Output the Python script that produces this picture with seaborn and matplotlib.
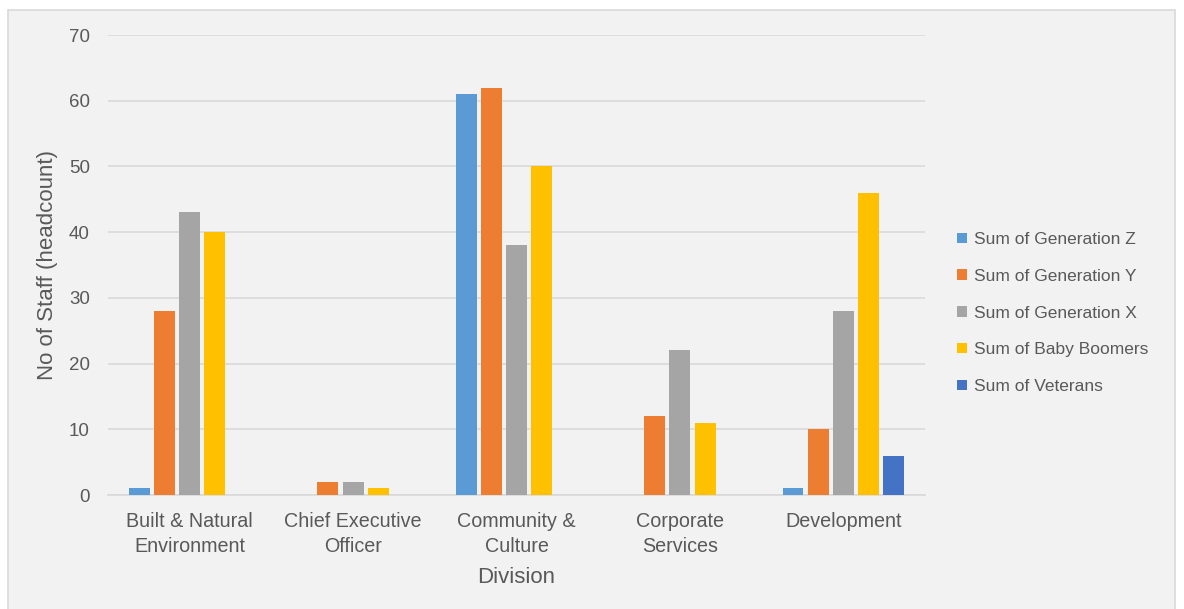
import matplotlib
matplotlib.use("Agg")
import matplotlib.pyplot as plt
import seaborn as sns
import pandas as pd
from matplotlib.patches import Rectangle

categories = ["Built & Natural\nEnvironment", "Chief Executive\nOfficer", "Community &\nCulture",
              "Corporate\nServices", "Development"]
series = ["Sum of Generation Z", "Sum of Generation Y", "Sum of Generation X",
          "Sum of Baby Boomers", "Sum of Veterans"]
gen_z = [1, 0, 61, 0, 1]
gen_y = [28, 2, 62, 12, 10]
gen_x = [43, 2, 38, 22, 28]
boomers = [40, 1, 50, 11, 46]
veterans = [0, 0, 0, 0, 6]
colors = ["#5B9BD5", "#ED7D31", "#A5A5A5", "#FFC000", "#4472C4"]

rows = []
for s, vals in zip(series, [gen_z, gen_y, gen_x, boomers, veterans]):
    for c, v in zip(categories, vals):
        rows.append({"Division": c, "Series": s, "Value": v})
df = pd.DataFrame(rows)

sns.set_theme(style="white")
plt.rcParams['font.family'] = ['Liberation Sans', 'DejaVu Sans']

fig = plt.figure(figsize=(11.84, 6.09), dpi=100, facecolor="white")
bg = Rectangle((8 / 1184, -0.01), (1175 - 8) / 1184, (609 - 10) / 609 + 0.01,
               transform=fig.transFigure, facecolor="#f2f2f2",
               edgecolor="#d9d9d9", linewidth=1.2, zorder=-10)
fig.add_artist(bg)
ax = fig.add_axes([108 / 1184, (609 - 495) / 609, (925 - 108) / 1184, (495 - 35) / 609])
ax.set_zorder(1)
ax.set_facecolor("#f2f2f2")

sns.barplot(data=df, x="Division", y="Value", hue="Series", hue_order=series,
            order=categories, palette=colors, width=0.77, gap=0.17,
            saturation=1, linewidth=0, ax=ax, zorder=3)

ax.set_ylim(0, 70)
ax.set_yticks(range(0, 71, 10))
ax.yaxis.grid(True, color="#d9d9d9", linewidth=1.2, zorder=0)
ax.set_axisbelow(True)
for sp in ["top", "right", "left"]:
    ax.spines[sp].set_visible(False)
ax.spines["bottom"].set_color("#d9d9d9")
ax.spines["bottom"].set_linewidth(1.2)
ax.tick_params(axis="both", length=0, labelcolor="#595959")
ax.tick_params(axis="y", pad=13, labelsize=13.5)
ax.tick_params(axis="x", pad=12, labelsize=14.2)
for t in ax.get_xticklabels():
    t.set_linespacing(1.4)

ax.set_xlabel("Division", fontsize=16, color="#595959", labelpad=8)
ax.set_ylabel("No of Staff (headcount)", fontsize=16, color="#595959", labelpad=8)

ax.legend(loc="center left", bbox_to_anchor=(957 / 1184, (609 - 313) / 609),
          bbox_transform=fig.transFigure, frameon=False,
          fontsize=12.5, labelcolor="#595959", handlelength=0.55, handleheight=0.55,
          handletextpad=0.45, labelspacing=1.25, borderaxespad=0, borderpad=0)

fig.savefig("out.png", dpi=100, facecolor="white")
